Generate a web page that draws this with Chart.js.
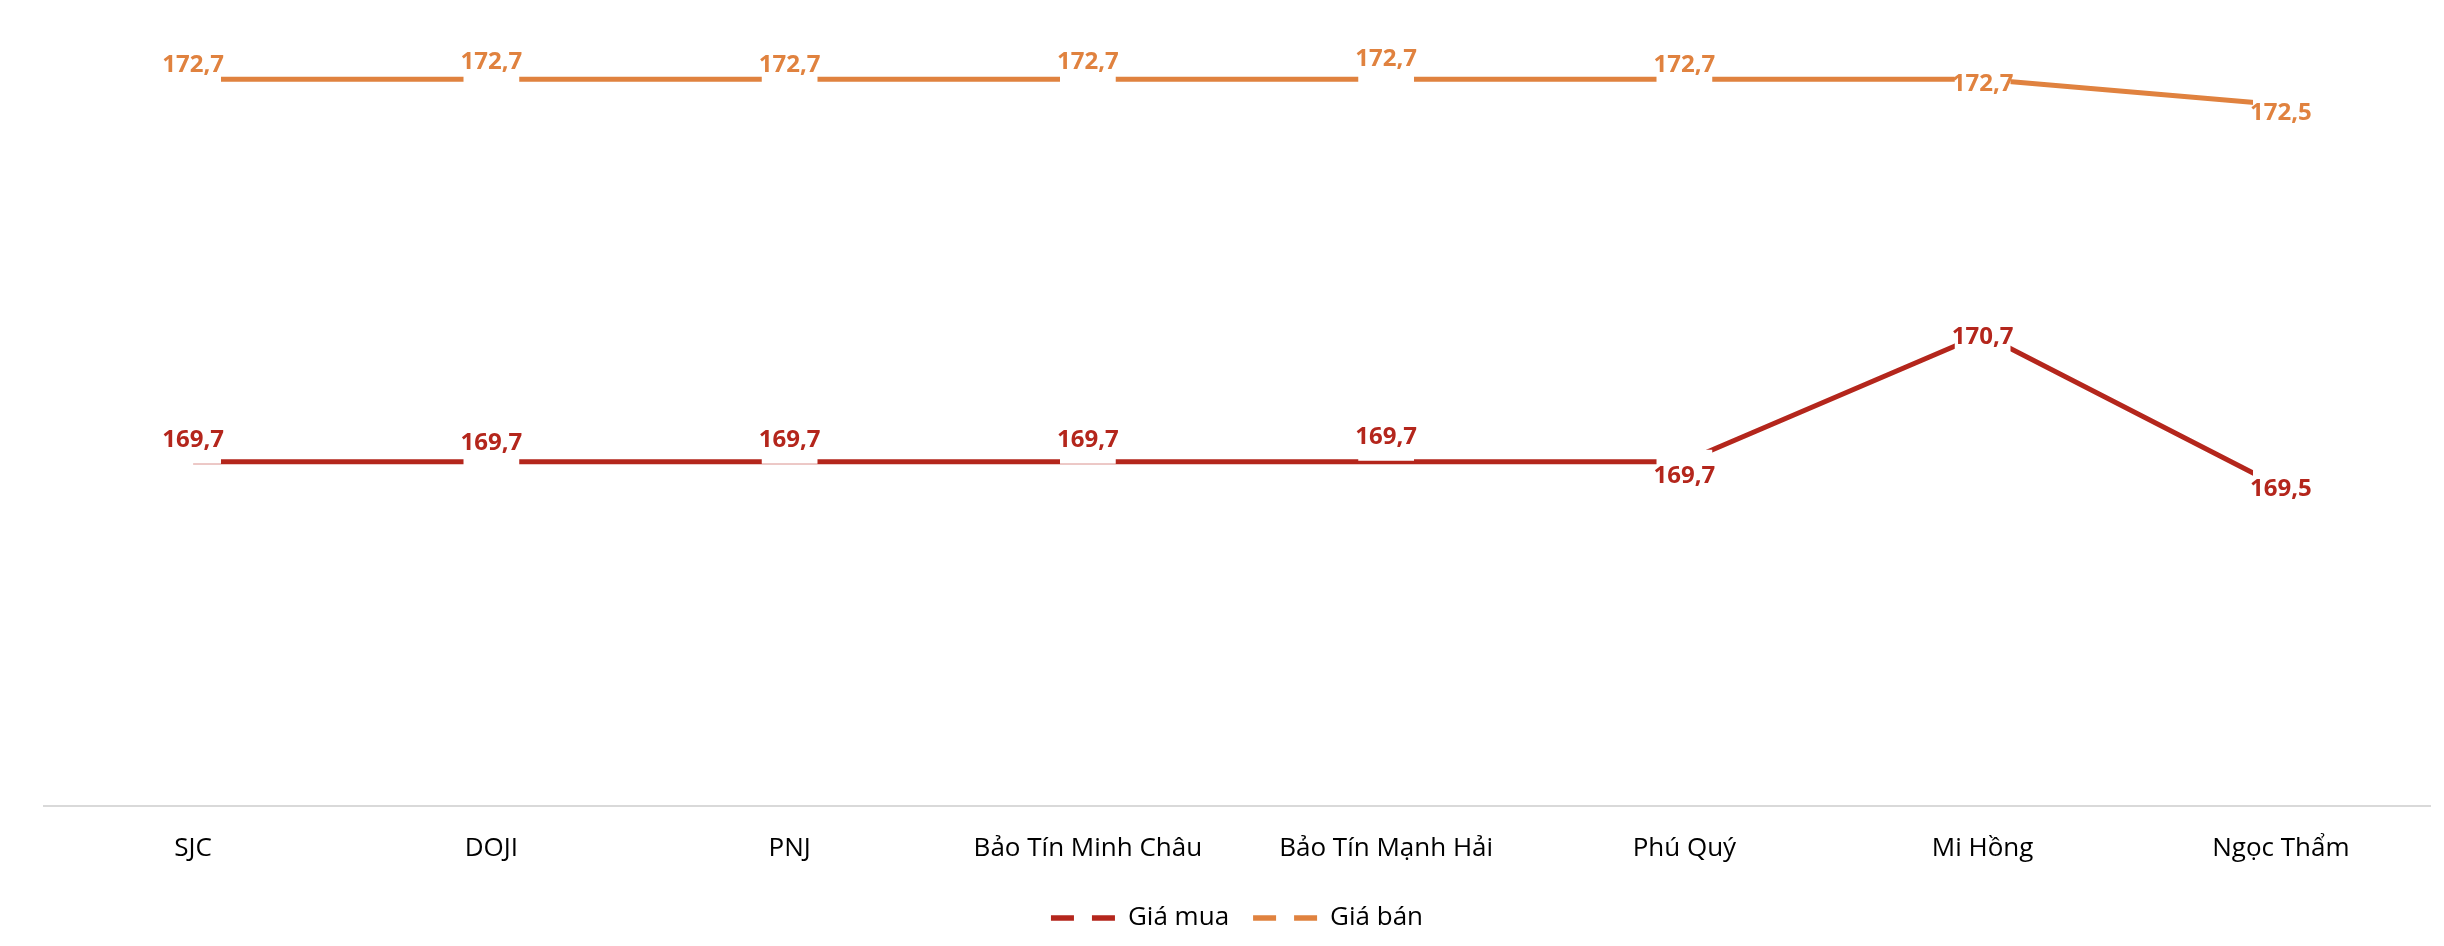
<!DOCTYPE html>
<html>
<head>
<meta charset="utf-8">
<script src="https://cdn.jsdelivr.net/npm/chart.js@4/dist/chart.umd.min.js"></script>
<style>
  html, body { margin: 0; padding: 0; background: #fff; }
  canvas { display: block; }
</style>
</head>
<body>
<canvas id="goldChart" width="2444" height="946"></canvas>
<script>
// shops and prices (trieu dong / luong)
const shops = ["SJC", "DOJI", "PNJ", "Bảo Tín Minh Châu", "Bảo Tín Mạnh Hải", "Phú Quý", "Mi Hồng", "Ngọc Thẩm"];
const buyPrices = [169.7, 169.7, 169.7, 169.7, 169.7, 169.7, 170.7, 169.5];
const sellPrices = [172.7, 172.7, 172.7, 172.7, 172.7, 172.7, 172.7, 172.5];
const seriesNames = ["Giá mua", "Giá bán"];

// where each data label sits relative to its point (px, like Excel's manual label moves)
const buyLabelShift = [-23, -20, -23, -23, -26, 13, 1, 0];
const sellLabelShift = [-16, -19, -16, -19, -22, -16, 3, 7];

const buyColor = "#B4261C";
const sellColor = "#E0823F";
const fontName = "'Open Sans', 'Noto Sans', sans-serif";

const fmt = (v) => v.toFixed(1).replace(".", ",");

// data labels with a white box behind, the box cuts the line like in Excel
const valueLabels = {
    id: "valueLabels",
    afterDatasetsDraw(chart) {
        const ctx = chart.ctx;
        ctx.save();
        ctx.font = "bold 24px " + fontName;
        ctx.textAlign = "center";
        ctx.textBaseline = "alphabetic";
        chart.data.datasets.forEach((ds, i) => {
            const meta = chart.getDatasetMeta(i);
            meta.data.forEach((pt, j) => {
                const txt = fmt(ds.data[j]);
                const w = ctx.measureText(txt).width;
                const cy = pt.y + ds.labelShift[j];
                ctx.fillStyle = "#fff";
                ctx.fillRect(pt.x - (w - 6) / 2, cy - 25, w - 6, 50);
                ctx.fillStyle = ds.borderColor;
                ctx.fillText(txt, pt.x, cy + 8.5);
            });
        });
        ctx.restore();
    },
};

const ctx = document.getElementById("goldChart").getContext("2d");

const goldChart = new Chart(ctx, {
    type: "line",
    data: {
        labels: shops,
        datasets: [
            {
                label: seriesNames[0],
                data: buyPrices,
                borderColor: buyColor,
                backgroundColor: buyColor,
                borderWidth: 5,
                pointRadius: 0,
                tension: 0,
                labelShift: buyLabelShift,
            },
            {
                label: seriesNames[1],
                data: sellPrices,
                borderColor: sellColor,
                backgroundColor: sellColor,
                borderWidth: 5,
                pointRadius: 0,
                tension: 0,
                labelShift: sellLabelShift,
            },
        ],
    },
    options: {
        responsive: false,
        devicePixelRatio: 1,
        animation: false,
        layout: {
            padding: { top: 41, left: 44, right: 14, bottom: 5 },
        },
        scales: {
            x: {
                offset: true,
                grid: { display: false, drawTicks: false },
                border: { display: true, color: "#D9D9D9", width: 2 },
                ticks: {
                    color: "#000",
                    padding: 27,
                    font: { family: fontName, size: 26 },
                },
                afterFit(scale) {
                    scale.height = 75;
                },
            },
            y: {
                display: false,
                min: 167,
                max: 173,
            },
        },
        plugins: {
            tooltip: { enabled: false },
            legend: {
                position: "bottom",
                labels: {
                    color: "#000",
                    font: { family: fontName, size: 26 },
                    padding: 24,
                    usePointStyle: true,
                    pointStyleWidth: 64,
                    generateLabels(chart) {
                        return chart.data.datasets.map((ds, i) => ({
                            text: ds.label,
                            datasetIndex: i,
                            pointStyle: "line",
                            strokeStyle: ds.borderColor,
                            fillStyle: ds.borderColor,
                            lineWidth: 5.5,
                            lineDash: [23, 18],
                            lineCap: "butt",
                            fontColor: "#000",
                        }));
                    },
                },
            },
        },
    },
    plugins: [valueLabels],
});
</script>
</body>
</html>
